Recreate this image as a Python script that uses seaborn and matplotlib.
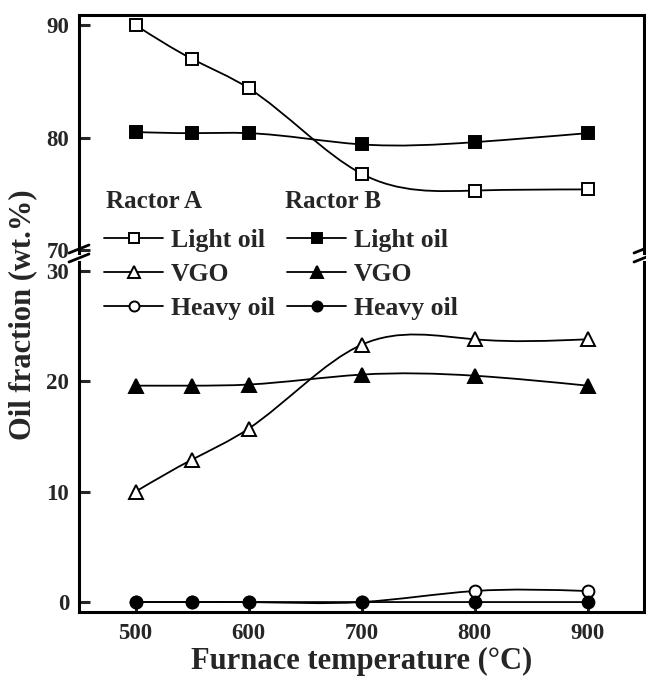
import numpy as np
import pandas as pd
import matplotlib
matplotlib.use("Agg")
import matplotlib.pyplot as plt
from matplotlib.path import Path
from matplotlib.patches import PathPatch
from matplotlib.lines import Line2D
import seaborn as sns

# ---------------- data ----------------
temperature = [500, 550, 600, 700, 800, 900]
light_oil_A = [90.0, 87.0, 84.4, 76.8, 75.3, 75.4]
light_oil_B = [80.5, 80.4, 80.4, 79.4, 79.6, 80.4]
vgo_A = [10.0, 12.9, 15.7, 23.3, 23.8, 23.8]
vgo_B = [19.6, 19.6, 19.7, 20.6, 20.5, 19.6]
heavy_A = [0.0, 0.0, 0.0, 0.0, 1.0, 1.0]
heavy_B = [0.0, 0.0, 0.0, 0.0, 0.0, 0.0]
x_ticks = [500, 600, 700, 800, 900]
top_ticks = [70, 80, 90]
bottom_ticks = [0, 10, 20, 30]
series_labels = ["Light oil", "VGO", "Heavy oil"]
group_labels = ["Ractor A", "Ractor B"]

# ---------------- style ----------------
sns.set_style("ticks")
plt.rcParams["font.family"] = ["Liberation Serif", "DejaVu Serif"]
plt.rcParams["font.weight"] = "bold"
plt.rcParams["axes.labelweight"] = "bold"

W, H = 646, 679
fig = plt.figure(figsize=(W / 100, H / 100), dpi=100)

def fx(px):
    return px / W

def fy(py):
    return 1 - py / H

left, right = 79, 644
ax_top = fig.add_axes([fx(left), fy(253), fx(right - left), (253 - 15) / H])
ax_bot = fig.add_axes([fx(left), fy(612), fx(right - left), (612 - 262) / H])

def spline_path(x, y):
    x = np.asarray(x, float)
    y = np.asarray(y, float)
    n = len(x)
    h = np.diff(x)
    A = np.zeros((n, n))
    r = np.zeros(n)
    A[0, 0] = 1
    A[-1, -1] = 1
    for i in range(1, n - 1):
        A[i, i - 1] = h[i - 1]
        A[i, i] = 2 * (h[i - 1] + h[i])
        A[i, i + 1] = h[i]
        r[i] = 6 * ((y[i + 1] - y[i]) / h[i] - (y[i] - y[i - 1]) / h[i - 1])
    M = np.linalg.solve(A, r)
    verts = [(x[0], y[0])]
    codes = [Path.MOVETO]
    for i in range(n - 1):
        s = (y[i + 1] - y[i]) / h[i]
        d0 = s - h[i] * (2 * M[i] + M[i + 1]) / 6
        d1 = s + h[i] * (M[i] + 2 * M[i + 1]) / 6
        verts += [(x[i] + h[i] / 3, y[i] + h[i] / 3 * d0),
                  (x[i + 1] - h[i] / 3, y[i + 1] - h[i] / 3 * d1),
                  (x[i + 1], y[i + 1])]
        codes += [Path.CURVE4] * 3
    return Path(verts, codes)

line_lw = 1.3
specs = [
    (ax_top, light_oil_A, "s", "white", 8),
    (ax_top, light_oil_B, "s", "black", 8),
    (ax_bot, vgo_A, "^", "white", 10),
    (ax_bot, vgo_B, "^", "black", 10),
    (ax_bot, heavy_A, "o", "white", 8.5),
    (ax_bot, heavy_B, "o", "black", 8.5),
]
for ax, vals, mk, fc, ms in specs:
    ax.add_patch(PathPatch(spline_path(temperature, vals), fill=False,
                           edgecolor="black", lw=line_lw, zorder=2))
    df = pd.DataFrame({"T": temperature, "v": vals})
    sns.lineplot(data=df, x="T", y="v", ax=ax, linestyle="", marker=mk,
                 markersize=ms, markerfacecolor=fc, markeredgecolor="black",
                 markeredgewidth=1.4, color="black", zorder=3)

for ax in (ax_top, ax_bot):
    ax.set_xlim(450, 950)
    ax.set_xlabel("")
    ax.set_ylabel("")
    for sp in ax.spines.values():
        sp.set_linewidth(2.2)
        sp.set_color("black")
    ax.tick_params(axis="y", direction="in", length=8, width=2.2, pad=7,
                   labelsize=16.5, right=False)
    ax.tick_params(axis="x", direction="in", length=6, width=2.2, pad=8,
                   labelsize=16.5, top=False)

ax_top.set_ylim(69.75, 90.9)
ax_top.set_yticks(top_ticks)
ax_top.spines["bottom"].set_visible(False)
ax_top.tick_params(axis="x", bottom=False, labelbottom=False)

ax_bot.set_ylim(-0.9, 30.8)
ax_bot.set_yticks(bottom_ticks)
ax_bot.set_xticks(x_ticks)
ax_bot.spines["top"].set_visible(False)
for lab in ax_bot.get_xticklabels() + ax_bot.get_yticklabels() + ax_top.get_yticklabels():
    lab.set_fontweight("bold")

# break marks
for x0 in (left, right):
    for yc in (249, 258):
        fig.add_artist(Line2D([fx(x0 - 10), fx(x0 + 10)], [fy(yc + 4), fy(yc - 4)],
                              transform=fig.transFigure, color="black", lw=2.0))

ax_bot.set_xlabel("Furnace temperature (\u00b0C)", fontsize=22, fontweight="bold",
                  labelpad=2)
fig.text(fx(23), fy(315), "Oil fraction (wt.%)", rotation=90, ha="center",
         va="center", fontsize=22, fontweight="bold")

# legends
fig.text(fx(106), fy(208), group_labels[0], fontsize=18, fontweight="bold",
         va="baseline", ha="left")
fig.text(fx(285), fy(208), group_labels[1], fontsize=18, fontweight="bold",
         va="baseline", ha="left")

def make_handles(fill):
    out = []
    for mk, ms in (("s", 8), ("^", 10), ("o", 8.5)):
        out.append(Line2D([], [], color="black", lw=line_lw, marker=mk,
                          markersize=ms * 0.85, markerfacecolor=fill,
                          markeredgecolor="black", markeredgewidth=1.4))
    return out

for xpix, fill in ((104, "white"), (287, "black")):
    leg = fig.legend(make_handles(fill), series_labels, loc="upper left",
                     bbox_to_anchor=(fx(xpix), fy(229)),
                     bbox_transform=fig.transFigure, frameon=False,
                     borderpad=0, borderaxespad=0, handlelength=2.3,
                     handletextpad=0.3, labelspacing=0.42,
                     prop={"family": "Liberation Serif", "weight": "bold", "size": 18.5})

fig.savefig("out.png", dpi=100)
